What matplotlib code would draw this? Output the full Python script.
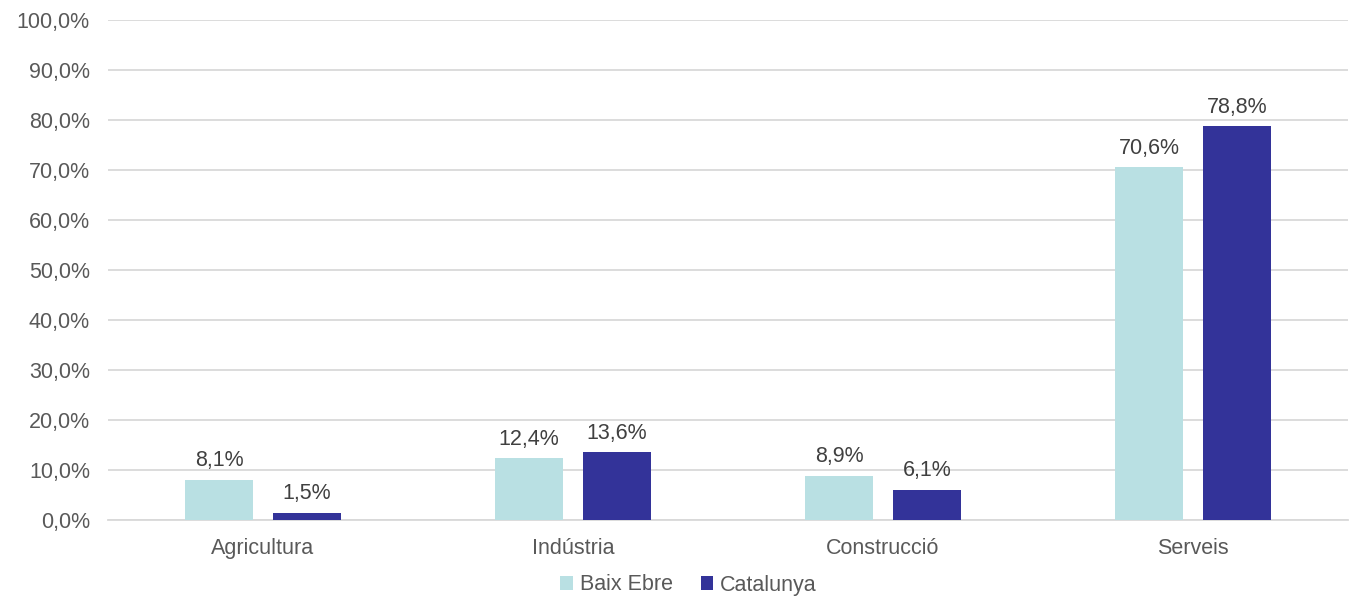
import numpy as np
import matplotlib
matplotlib.use('Agg')
import matplotlib.pyplot as plt

categories = ['Agricultura', 'Indústria', 'Construcció', 'Serveis']
baix_ebre = [8.1, 12.4, 8.9, 70.6]
catalunya = [1.5, 13.6, 6.1, 78.8]
series_names = ['Baix Ebre', 'Catalunya']
yticks = np.arange(0, 101, 10)

plt.rcParams['font.family'] = ['Liberation Sans', 'DejaVu Sans']
txt = '#595959'
fs = 15.5

fig = plt.figure(figsize=(13.5, 6), dpi=100)
ax = fig.add_axes([108/1350, 80/600, 1240/1350, 500/600])

x = np.arange(len(categories))
w = 0.22
off = 0.142
b1 = ax.bar(x - off, baix_ebre, w, color='#B9E0E3', label=series_names[0], zorder=3)
b2 = ax.bar(x + off, catalunya, w, color='#333399', label=series_names[1], zorder=3)

for bars, vals in ((b1, baix_ebre), (b2, catalunya)):
    for b, v in zip(bars, vals):
        ax.annotate(f'{v:.1f}%'.replace('.', ','), (b.get_x() + b.get_width()/2, v),
                    xytext=(0, 6), textcoords='offset points', ha='center', va='bottom',
                    fontsize=fs, color='#404040')

ax.set_xlim(-0.5, 3.5)
ax.set_ylim(0, 100)
ax.set_yticks(yticks)
ax.set_yticklabels([f'{t:.1f}%'.replace('.', ',') for t in yticks])
ax.set_xticks(x)
ax.set_xticklabels(categories)
ax.tick_params(axis='both', length=0, labelsize=fs, colors=txt)
ax.tick_params(axis='y', pad=13)
ax.tick_params(axis='x', pad=13)
ax.grid(axis='y', color='#d9d9d9', lw=1.3, zorder=0)
for s in ('top', 'right', 'left'):
    ax.spines[s].set_visible(False)
ax.spines['bottom'].set_color('#d9d9d9')
ax.spines['bottom'].set_linewidth(1.3)

# legend sits a bit left of the axes centre, as in the original
leg = ax.legend(loc='center', bbox_to_anchor=(0.468, -0.13), ncol=2, frameon=False,
                fontsize=fs, handlelength=0.6, handleheight=0.6, handletextpad=0.3,
                columnspacing=1.3, borderpad=0)
for t in leg.get_texts():
    t.set_color(txt)

fig.savefig('out.png', dpi=100)
